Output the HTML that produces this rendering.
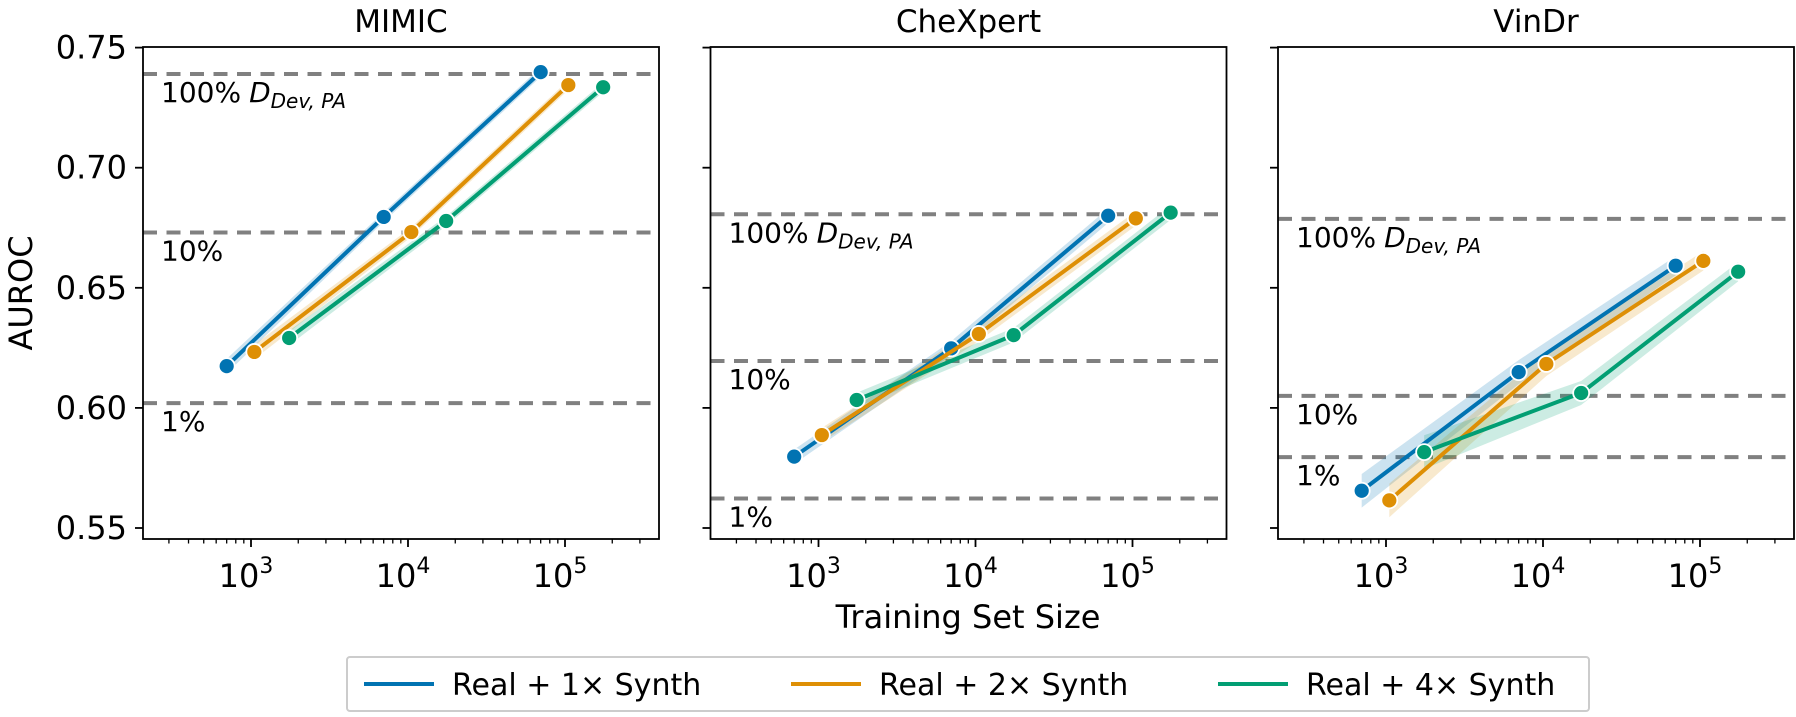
<!DOCTYPE html>
<html><head><meta charset="utf-8"><style>
html,body{margin:0;padding:0;background:#fff;}
svg{display:block;font-family:"DejaVu Sans","Liberation Sans",sans-serif;}
</style></head><body>
<svg id="chart" width="1796" height="717" viewBox="0 0 1796 717"></svg>
<script>
const panelTitles = ["MIMIC", "CheXpert", "VinDr"];
const seriesNames = ["Real + 1\u00d7 Synth", "Real + 2\u00d7 Synth", "Real + 4\u00d7 Synth"];
const sizes1x = [700, 7000, 70000];
const sizes2x = [1050, 10500, 105000];
const sizes4x = [1750, 17500, 175000];
const mimic1x = [0.6174, 0.6795, 0.7398];
const mimic2x = [0.6233, 0.6732, 0.7344];
const mimic4x = [0.6291, 0.6778, 0.7335];
const chex1x = [0.5797, 0.6248, 0.6800];
const chex2x = [0.5887, 0.6308, 0.6789];
const chex4x = [0.6033, 0.6303, 0.6813];
const vin1x = [0.5655, 0.6149, 0.6592];
const vin2x = [0.5615, 0.6183, 0.6612];
const vin4x = [0.5816, 0.6062, 0.6567];
const ciMimic = [0.003, 0.002, 0.002];
const ciChex = [0.003, 0.003, 0.003];
const ciVin = [0.007, 0.005, 0.004];
const refMimic = [0.7390, 0.6730, 0.6020];
const refChex = [0.6806, 0.6195, 0.5623];
const refVin = [0.6787, 0.6050, 0.5795];
const refLabels = ["100%", "10%", "1%"];
const yTicks = [0.55, 0.60, 0.65, 0.70, 0.75];
const yTickLabels = ["0.55", "0.60", "0.65", "0.70", "0.75"];
const xMajor = [3, 4, 5];

const colors = ["#0173b2", "#de8f05", "#029e73"];
const NS = "http://www.w3.org/2000/svg";
const svg = document.getElementById("chart");
const panelLeft = [143, 710.5, 1278];
const PW = 516, TOP = 47, BOT = 539;
const LOGMIN = 3 - 108/157, DEC = 157;
function xs(p, v){ return panelLeft[p] + (Math.log10(v) - LOGMIN) * DEC; }
function ys(v){ return 528 - (v - 0.55) * 2402; }
function mk(tag, attrs, parent){
  const e = document.createElementNS(NS, tag);
  for (const k in attrs) e.setAttribute(k, attrs[k]);
  (parent || svg).appendChild(e); return e;
}
const data = [[mimic1x, mimic2x, mimic4x],[chex1x, chex2x, chex4x],[vin1x, vin2x, vin4x]];
const cis = [ciMimic, ciChex, ciVin];
const refs = [refMimic, refChex, refVin];
const sizes = [sizes1x, sizes2x, sizes4x];

for (let p = 0; p < 3; p++){
  const L = panelLeft[p];
  const g = mk("g", {});
  
  
  const clipId = "clip" + p;
  const cp = mk("clipPath", {id: clipId}, g);
  mk("rect", {x: L, y: TOP, width: PW, height: BOT - TOP}, cp);
  const t = mk("text", {x: L + PW/2, y: 32, "text-anchor": "middle", "font-size": 31, fill: "#000"}, g);
  t.textContent = panelTitles[p];
  
  
  const inner = mk("g", {"clip-path": "url(#" + clipId + ")"}, g);
  refs[p].forEach((rv, i) => {
    const y = ys(rv);
    const ln = mk("line", {x1: L, x2: L + PW, y1: y, y2: y, stroke: "#808080", "stroke-width": 4, "stroke-dasharray": "14 9.5"}, inner);
    
    
    const tx = mk("text", {x: L + 18, y: y + 28, "font-size": 28, fill: "#000"}, g);
    
    
    tx.textContent = refLabels[i];
    if (i === 0){
      const ts = mk("tspan", {"font-style": "italic", dx: 8}, tx); ts.textContent = "D";
      const ts2 = mk("tspan", {"font-style": "italic", "font-size": 20, dy: 6}, tx); ts2.textContent = "Dev, PA";
    }
  });
  for (let s = 0; s < 3; s++){
    const vals = data[p][s], xv = sizes[s], ci = cis[p];
    let up = "", dn = "";
    vals.forEach((v, i) => { up += (i ? "L" : "M") + xs(p, xv[i]) + "," + ys(v + ci[i]); });
    for (let i = vals.length - 1; i >= 0; i--) dn += "L" + xs(p, xv[i]) + "," + ys(vals[i] - ci[i]);
    const band = mk("path", {d: up + dn + "Z", fill: colors[s], "fill-opacity": 0.2, stroke: "none"}, inner);
    
    
    const pts = vals.map((v, i) => xs(p, xv[i]) + "," + ys(v)).join(" ");
    const pl = mk("polyline", {points: pts, fill: "none", stroke: colors[s], "stroke-width": 4}, g);
    
    
    vals.forEach((v, i) => {
      const c = mk("circle", {cx: xs(p, xv[i]), cy: ys(v), r: 8, fill: colors[s], stroke: "#fff", "stroke-width": 1.8}, g);
      
      
    });
  }
  const fr = mk("rect", {x: L, y: TOP, width: PW, height: BOT - TOP, fill: "none", stroke: "#000", "stroke-width": 1.8}, g);
  
  
  yTicks.forEach((v, i) => {
    const y = ys(v);
    mk("line", {x1: L - 8, x2: L, y1: y, y2: y, stroke: "#000", "stroke-width": 1.8}, g);
    if (p === 0){
      const tl = mk("text", {x: L - 16, y: y + 11, "text-anchor": "end", "font-size": 32}, g);
      
      
      tl.textContent = yTickLabels[i];
    }
  });
  for (let d = 2; d <= 5; d++){
    for (let m = 1; m <= 9; m++){
      const lv = d + Math.log10(m);
      const x = L + (lv - LOGMIN) * DEC;
      if (x < L - 0.5 || x > L + PW + 0.5) continue;
      const major = m === 1;
      mk("line", {x1: x, x2: x, y1: BOT, y2: BOT + (major ? 8 : 4.5), stroke: "#000", "stroke-width": major ? 1.8 : 1.3}, g);
    }
  }
  xMajor.forEach(e => {
    const x = L + (e - LOGMIN) * DEC;
    const tl = mk("text", {x: x - 5, y: 587, "text-anchor": "middle", "font-size": 32}, g);
    
    
    tl.textContent = "10";
    const sp = mk("tspan", {"font-size": 22, dy: -14}, tl); sp.textContent = String(e);
  });
}
const yl = mk("text", {x: 0, y: 0, transform: "translate(32,293) rotate(-90)", "text-anchor": "middle", "font-size": 32});


yl.textContent = "AUROC";
const xl = mk("text", {x: 968, y: 628, "text-anchor": "middle", "font-size": 32});


xl.textContent = "Training Set Size";
const lg = mk("g", {});


mk("rect", {x: 347, y: 657, width: 1242, height: 54, fill: "#fff", stroke: "#ccc", "stroke-width": 2, rx: 3}, lg);
const legX = [364, 791, 1218];
seriesNames.forEach((n, i) => {
  const e = mk("g", {}, lg);
  
  
  mk("line", {x1: legX[i], x2: legX[i] + 70, y1: 684, y2: 684, stroke: colors[i], "stroke-width": 4}, e);
  const t = mk("text", {x: legX[i] + 88, y: 695, "font-size": 30}, e);
  t.textContent = n;
});
</script>
</body></html>
